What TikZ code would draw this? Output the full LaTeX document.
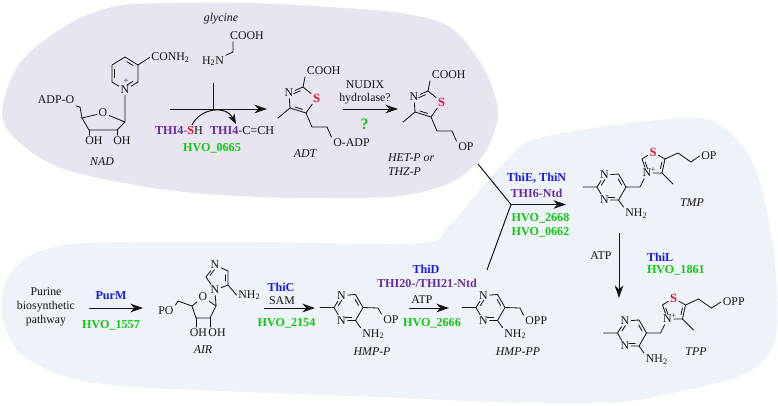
\documentclass[tikz,border=0pt]{standalone}
\usepackage{fontspec}
\setmainfont{Liberation Serif}
\usetikzlibrary{arrows.meta,calc}
\definecolor{blobP}{HTML}{E8E4F0}
\definecolor{blobB}{HTML}{EEF3F9}
\definecolor{grn}{HTML}{12C812}
\definecolor{blu}{HTML}{1A1AE6}
\definecolor{pur}{HTML}{6A2C9E}
\definecolor{ink}{HTML}{151515}
\definecolor{sred}{HTML}{E8102A}
\tikzset{
  bond/.style={draw=ink,line width=0.62pt,line cap=round},
  rxn/.style={draw=ink,line width=0.75pt,-{Stealth[length=9.5pt,width=6.5pt,inset=3pt]}},
  plainline/.style={draw=ink,line width=0.75pt},
  txt/.style={inner sep=0pt,outer sep=0pt,text=ink,font=\fontsize{8.9}{11}\selectfont},
  atom/.style={txt,inner sep=0.7pt,outer sep=0.7pt},
  sulf/.style={atom,text=sred,font=\fontsize{9.4}{11}\selectfont\bfseries},
  lab/.style={txt,font=\fontsize{8.9}{11}\selectfont\itshape},
  ghvo/.style={txt,text=grn,font=\fontsize{9.1}{11}\selectfont\bfseries},
  ebl/.style={txt,text=blu,font=\fontsize{9.1}{11}\selectfont\bfseries},
  epu/.style={txt,text=pur,font=\fontsize{9.1}{11}\selectfont\bfseries},
}
% double-bond inner stroke: #1,#2 ends, #3 ring centre
\newcommand{\innerbond}[3]{\draw[bond] ($($(#1.center)!.2!(#2.center)$)!.22!(#3)$) -- ($($(#1.center)!.8!(#2.center)$)!.22!(#3)$);}
% pyrimidine with NH2 and methyl; #1 prefix, #2 x, #3 y (position of C2)
\newcommand{\pyrim}[3]{%
  \begin{scope}[shift={(#2,#3)}]
    \coordinate (#1me) at (-14,0);
    \coordinate (#1c2) at (0,0);
    \node[atom] (#1n1) at (7.5,-12) {N};
    \coordinate (#1c6) at (21.5,-13);
    \coordinate (#1c5) at (29,0);
    \coordinate (#1c4) at (21.5,13);
    \node[atom] (#1n3) at (7.5,13) {N};
    \coordinate (#1ctr) at (14.5,0);
    \node[atom,anchor=west] (#1nh) at (26.5,26.5) {NH\textsubscript{2}};
    \draw[bond] (#1me) -- (#1c2) -- (#1n1) -- (#1c6) -- (#1c5) -- (#1c4) -- (#1n3) -- (#1c2);
    \draw[bond] (#1c4) -- (#1nh.north west);
    \innerbond{#1c2}{#1n1}{#1ctr}
    \innerbond{#1c6}{#1c5}{#1ctr}
    \innerbond{#1c4}{#1n3}{#1ctr}
  \end{scope}}
% thiazolium, with CH2 bridge; #1 prefix, #2 x, #3 y (position of pyrimidine C2)
\newcommand{\thiazolium}[3]{%
  \begin{scope}[shift={(#2,#3)}]
    \coordinate (#1ch) at (43,0);
    \node[atom] (#1np) at (50,-14) {N};
    \node[txt,font=\fontsize{6.5}{7}\selectfont] (#1plus) at (56,-17) {+};
    \coordinate (#1c2t) at (45,-28);
    \node[sulf] (#1s) at (56,-35) {S};
    \coordinate (#1c5t) at (68,-28);
    \coordinate (#1c4t) at (65,-14);
    \coordinate (#1me2) at (76,-3);
    \coordinate (#1a) at (81,-34);
    \coordinate (#1b) at (94,-25);
    \coordinate (#1tctr) at (56,-24);
    \draw[bond] (#1c5) -- (#1ch) -- (#1np) -- (#1c2t) -- (#1s) -- (#1c5t) -- (#1c4t) -- (#1np);
    \draw[bond] (#1c4t) -- (#1me2);
    \draw[bond] (#1c5t) -- (#1a) -- (#1b);
    \innerbond{#1c2t}{#1np}{#1tctr}
    \innerbond{#1c5t}{#1c4t}{#1tctr}
  \end{scope}}
% carboxy thiazole; #1 prefix, #2 x, #3 y (position of ring C2)
\newcommand{\cthiaz}[3]{%
  \begin{scope}[shift={(#2,#3)}]
    \coordinate (#1c2) at (0,0);
    \node[sulf] (#1s) at (13.5,11) {S};
    \coordinate (#1c5) at (3,26);
    \coordinate (#1c4) at (-13,21);
    \node[atom] (#1n) at (-14,6) {N};
    \coordinate (#1me) at (-25,31);
    \coordinate (#1a) at (9,40);
    \coordinate (#1b) at (24,40);
    \coordinate (#1ctr) at (-2,13);
    \draw[bond] (#1c2) -- (#1s) -- (#1c5) -- (#1c4) -- (#1n) -- (#1c2);
    \draw[bond] (#1c4) -- (#1me);
    \draw[bond] (#1c5) -- (#1a) -- (#1b);
    \innerbond{#1c2}{#1n}{#1ctr}
    \innerbond{#1c5}{#1c4}{#1ctr}
  \end{scope}}
\begin{document}
\begin{tikzpicture}[x=0.75pt,y=-0.75pt]
\useasboundingbox (0,0) rectangle (778,405);
% background shapes
\fill[blobB] plot[smooth cycle,tension=0.55] coordinates {
 (2,315) (8,277) (33,254) (73,244) (133,242) (260,242) (420,243) (447,228) (473,198) (507,160) (533,140) (600,127) (683,118) (717,123) (750,157) (768,215) (777,290) (774,343) (747,373) (687,390) (620,402) (527,403) (400,398) (270,393) (133,387) (67,377) (20,353)};
\fill[blobP] plot[smooth cycle,tension=0.55] coordinates {
 (2,113) (20,63) (67,25) (117,6) (180,3) (250,3) (330,7) (400,13) (450,27) (483,67) (498,110) (490,143) (477,163) (450,183) (400,196) (330,198) (260,197) (167,190) (67,170) (20,143)};

% ---------- NAD
\node[lab] (glycinelab) at (221,19) {glycine};
\node[atom] (glyc) at (247,36) {COOH};
\node[atom] (glyn) at (213,61) {H\textsubscript{2}N};
\coordinate (glyca) at (233,52);
\draw[bond] (glyn) -- (glyca) -- (glyc.south west -| glyca);

\coordinate (p1) at (125,57); \coordinate (p2) at (138,65); \coordinate (p3) at (138,82);
\node[atom] (pn) at (125,90) {N};
\node[txt,font=\fontsize{6.5}{7}\selectfont] (pplus) at (126,81.5) {+};
\coordinate (p5) at (112,82); \coordinate (p6) at (112,65); \coordinate (pctr) at (125,73);
\draw[bond] (p1) -- (p2) -- (p3) -- (pn) -- (p5) -- (p6) -- (p1);
\innerbond{p1}{p2}{pctr}\innerbond{p3}{pn}{pctr}\innerbond{p5}{p6}{pctr}
\node[atom,anchor=west] (conh) at (149.5,57.5) {CONH\textsubscript{2}};
\draw[bond] (p2) -- (conh.west);
\coordinate (r1) at (125,122);
\node[atom] (ro) at (103,113) {O};
\coordinate (r4) at (82,118); \coordinate (r3) at (89,130); \coordinate (r2) at (117,130);
\coordinate (r5) at (80,107);
\node[atom,anchor=west] (adpo) at (36,100) {ADP-O};
\node[atom] (oh1) at (94,141) {OH};
\node[atom] (oh2) at (122,141) {OH};
\draw[bond] (pn) -- (r1) -- (ro) -- (r4) -- (r3) -- (r2) -- (r1);
\draw[bond] (r4) -- (r5) -- (adpo.south east);
\draw[bond] (r3) -- (r3 |- oh1.north);
\draw[bond] (r2) -- (r2 |- oh2.north);
\node[lab] (nadlab) at (102,162) {NAD};

% ---------- step 1
\coordinate (s1a) at (170,109); \coordinate (s1b) at (267,109); \coordinate (s1c) at (213,83); \coordinate (s1m) at (213,109);
\draw[rxn] (s1a) -- (s1b);
\draw[plainline] (s1c) -- (s1m);
\coordinate (cs) at (192,125); \coordinate (ce) at (236,124);
\draw[draw=ink,line width=0.75pt,-{Stealth[length=7.5pt,width=5.5pt,inset=2pt]}] (cs) .. controls (200,108) and (226,105) .. (ce);
\node[txt,anchor=west] (thisl) at (155,130.5) {\fontsize{9.1}{11}\selectfont\bfseries\textcolor{pur}{THI4-}\textcolor{sred}{S}\mdseries\textcolor{ink}{H}};
\node[txt,anchor=west] (thicl) at (210,130.5) {\fontsize{9.1}{11}\selectfont\textbf{\textcolor{pur}{THI4-}}C=CH};
\node[ghvo] (h0665) at (212,148) {HVO\_0665};

% ---------- ADT
\cthiaz{t}{303}{87}
\node[atom,anchor=west] (tcooh) at (305,71) {COOH};
\draw[bond] (tc2) -- (tcooh.south west);
\node[atom,anchor=west] (toadp) at (331.5,143) {O-ADP};
\draw[bond] (tb) -- (toadp.north west);
\node[lab] (adtlab) at (305,153.5) {ADT};

\coordinate (s2a) at (343,109); \coordinate (s2b) at (398,109);
\draw[rxn] (s2a) -- (s2b);
\node[txt] (nudix) at (365,84.5) {NUDIX};
\node[txt] (hydro) at (365,98.5) {hydrolase?};
\node[ghvo,font=\fontsize{12}{13}\selectfont\bfseries] (qm) at (364.5,124) {?};

% ---------- HET-P
\cthiaz{h}{428}{91}
\node[atom,anchor=west] (hcooh) at (430,75) {COOH};
\draw[bond] (hc2) -- (hcooh.south west);
\node[atom,anchor=west] (hop) at (456.5,147) {OP};
\draw[bond] (hb) -- (hop.north west);
\node[lab,anchor=west] (hetl) at (388,158) {HET-P or};
\node[lab,anchor=west] (thzl) at (388,172) {THZ-P};

% ---------- junction
\coordinate (ja) at (478,164); \coordinate (jb) at (487,270); \coordinate (jm) at (511,204.5); \coordinate (je) at (566,204.5);
\draw[plainline] (ja) -- (jm) -- (jb);
\draw[rxn] (jm) -- (je);
\node[ebl] (thie) at (536.5,178) {ThiE, ThiN};
\node[epu] (thi6) at (536.5,193) {THI6-Ntd};
\node[ghvo] (h2668) at (540.5,218) {HVO\_2668};
\node[ghvo] (h0662) at (540.5,232.5) {HVO\_0662};

% ---------- TMP
\pyrim{a}{597}{187}
\thiazolium{a}{597}{187}
\node[atom,anchor=west] (aop) at (699.5,156) {OP};
\draw[bond] (ab) -- (aop.west);
\node[lab] (tmplab) at (692,203) {TMP};

\coordinate (s3a) at (619,233); \coordinate (s3b) at (619,298);
\draw[rxn] (s3a) -- (s3b);
\node[txt] (atp3) at (601,256) {ATP};
\node[ebl,anchor=west] (thil) at (647,257) {ThiL};
\node[ghvo,anchor=west] (h1861) at (647,270.5) {HVO\_1861};

% ---------- TPP
\pyrim{b}{617.5}{333}
\thiazolium{b}{617.5}{333}
\node[atom,anchor=west] (bop) at (721,302) {OPP};
\draw[bond] (bb) -- (bop.west);
\node[lab] (tpplab) at (696,352) {TPP};

% ---------- Purine
\node[txt] (pur1) at (46,292) {Purine};
\node[txt] (pur2) at (46,306.5) {biosynthetic};
\node[txt] (pur3) at (46,321) {pathway};
\coordinate (s4a) at (89,308); \coordinate (s4b) at (143,308);
\draw[rxn] (s4a) -- (s4b);
\node[ebl] (purm) at (111,296) {PurM};
\node[ghvo] (h1557) at (111,325) {HVO\_1557};

% ---------- AIR
\node[atom,anchor=west] (apo) at (156.5,311) {PO};
\coordinate (a5) at (178,301); \coordinate (a4) at (192,306);
\node[atom] (aro) at (203,297) {O};
\coordinate (a1) at (216,306); \coordinate (a2) at (210,318); \coordinate (a3) at (196,318);
\node[atom] (aoh1) at (198.5,333) {OH};
\node[atom] (aoh2) at (217,333) {OH};
\draw[bond] (apo.north east) -- (a5) -- (a4) -- (aro) -- (a1) -- (a2) -- (a3) -- (a4);
\draw[bond] (a3) -- (a3 |- aoh1.north);
\draw[bond] (a2) -- (a2 |- aoh2.north);
\node[atom] (in1) at (215,290) {N};
\coordinate (ic2) at (206,277);
\node[atom] (in3) at (215,265) {N};
\coordinate (ic4) at (228,271); \coordinate (ic5) at (228,285); \coordinate (ictr) at (218,278);
\draw[bond] (a1) -- (in1) -- (ic2) -- (in3) -- (ic4) -- (ic5) -- (in1);
\innerbond{ic2}{in3}{ictr}\innerbond{ic4}{ic5}{ictr}
\node[atom,anchor=west] (inh) at (236.5,295) {NH\textsubscript{2}};
\draw[bond] (ic5) -- (inh.west);
\node[lab] (airlab) at (203,350) {AIR};

% ---------- HMP-P
\coordinate (s5a) at (264,308); \coordinate (s5b) at (315,308);
\draw[rxn] (s5a) -- (s5b);
\node[ebl] (thic) at (281,287) {ThiC};
\node[txt] (sam) at (282,301) {SAM};
\node[ghvo] (h2154) at (286.5,323.5) {HVO\_2154};
\pyrim{c}{334}{307.5}
\coordinate (cch) at (378,308);
\node[atom,anchor=west] (cop) at (381.5,320) {OP};
\draw[bond] (cc5) -- (cch) -- (cop.north west);
\node[lab] (hmpp) at (372,352) {HMP-P};

% ---------- HMP-PP
\coordinate (s6a) at (409,308); \coordinate (s6b) at (449,308);
\draw[rxn] (s6a) -- (s6b);
\node[ebl] (thid) at (426,269) {ThiD};
\node[epu] (thi20) at (427,283.5) {THI20-/THI21-Ntd};
\node[txt] (atp6) at (422,299.5) {ATP};
\node[ghvo] (h2666) at (432,323.5) {HVO\_2666};
\pyrim{d}{476}{307.5}
\coordinate (dch) at (520,308);
\node[atom,anchor=west] (dop) at (523.5,321) {OPP};
\draw[bond] (dc5) -- (dch) -- (dop.north west);
\node[lab] (hmppp) at (518,352) {HMP-PP};
\end{tikzpicture}
\end{document}
